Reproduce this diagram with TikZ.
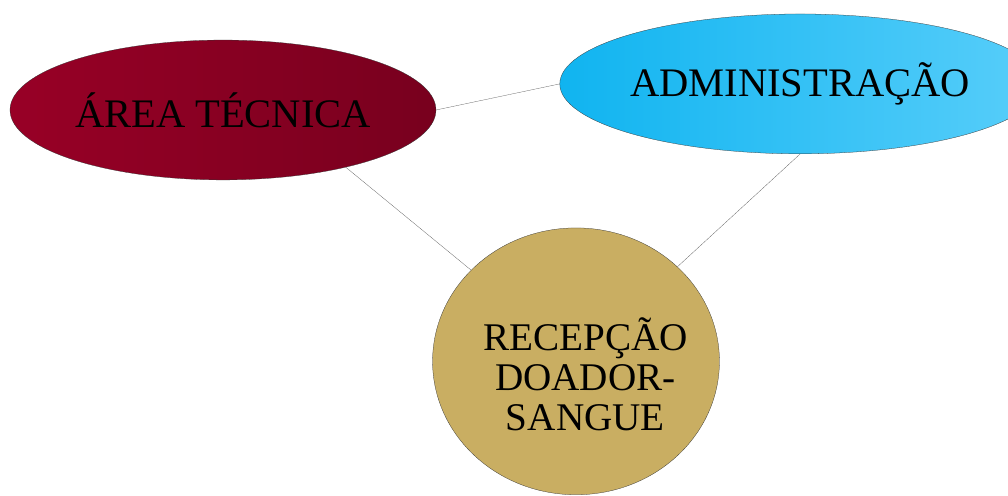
\documentclass[tikz,border=0pt]{standalone}
\usepackage{fontspec}
\setmainfont{Liberation Serif}
\usepackage{xcolor}
\usepackage{tikz}
\usetikzlibrary{shapes.geometric}
\definecolor{vinho}{RGB}{152,0,38}
\definecolor{vinhoesc}{RGB}{120,0,30}
\definecolor{azul}{RGB}{16,180,240}
\definecolor{azulcl}{RGB}{88,206,250}
\definecolor{areia}{RGB}{201,174,98}
\tikzstyle{setor} = [ellipse,
draw=black!80,
very thin,
inner sep=0pt,
font=\fontsize{30.5}{27}\selectfont]
\tikzstyle{ligacao} = [draw=black!65, very thin]

\begin{document}
\begin{tikzpicture}
\useasboundingbox (0,0) rectangle (26.67,13.12);

% Os tres setores
\node[setor, minimum width=11.27cm, minimum height=3.70cm,
  left color=vinho, right color=vinhoesc] (tecnica) at (5.90,10.21) {ÁREA TÉCNICA};
\node[setor, minimum width=11.01cm, minimum height=3.70cm,
  left color=azul, right color=azulcl] (adm) at (21.17,10.90) {ADMINISTRAÇÃO};
\node[setor, minimum width=7.59cm, minimum height=7.06cm,
  fill=areia] (recepcao) at (15.24,3.56) {};
\node[align=center, font=\fontsize{29.5}{30}\selectfont] (recepcaoTxt)
  at ([xshift=0.25cm, yshift=-0.35cm]recepcao.center) {RECEPÇÃO\\DOADOR-\\SANGUE};

% Ligacoes
\draw[ligacao] (tecnica.east) -- (adm.west);
\draw[ligacao] (tecnica.-25) -- (recepcao.139);
\draw[ligacao] (adm.south) -- (recepcao.43);

\end{tikzpicture}
\end{document}
